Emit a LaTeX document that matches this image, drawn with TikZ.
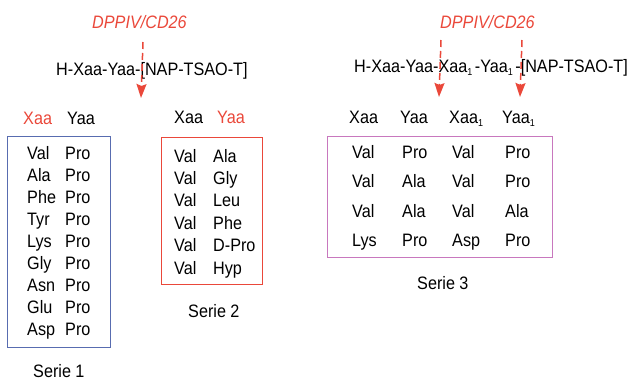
\documentclass[tikz,border=0pt]{standalone}
\usepackage{fontspec}
\setmainfont[FakeStretch=0.9]{Liberation Sans}
\usetikzlibrary{arrows.meta}
\definecolor{cred}{RGB}{234,72,58}
\definecolor{cblue}{RGB}{88,108,176}
\definecolor{cpink}{RGB}{200,120,190}
\newcommand\subone{\raisebox{-3.5pt}{\fontsize{10}{10}\selectfont 1}}
\tikzset{
  txt/.style={anchor=base west,inner sep=0pt,font=\fontsize{18}{21}\selectfont},
  lbl/.style={txt,text=cred,font=\fontsize{18}{21}\selectfont\itshape},
  cut/.style={draw=cred,line width=1.5pt,dash pattern=on 7pt off 4pt,-{Stealth[length=14pt,width=10pt,inset=2pt]}},
  frame/.style={line width=1pt}
}
\begin{document}
\begin{tikzpicture}[x=1pt,y=-1pt]
\useasboundingbox (0,0) rectangle (633,380);
% top labels
\node[lbl] (e1) at (92,28) {DPPIV/CD26};
\node[lbl] (e2) at (440,28) {DPPIV/CD26};
\node[txt] (f1) at (56,75) {H-Xaa-Yaa-[NAP-TSAO-T]};
\node[txt] (f2) at (354,72) {H-Xaa-Yaa-Xaa\subone\hspace{2.5pt}-Yaa\subone\hspace{2.5pt}-[NAP-TSAO-T]};
\coordinate (a1s) at (143,42);
\coordinate (a1e) at (141,98);
\coordinate (a2s) at (441,40);
\coordinate (a2e) at (439,97);
\coordinate (a3s) at (522,40);
\coordinate (a3e) at (520,97);
\draw[cut] (a1s) -- (a1e);
\draw[cut] (a2s) -- (a2e);
\draw[cut] (a3s) -- (a3e);
% Serie 1
\node[txt,text=cred] (h1x) at (23,124) {Xaa};
\node[txt] (h1y) at (67,124) {Yaa};
\draw[frame,cblue] (7,136) rectangle (110,347);
\foreach \a/\b [count=\i from 0] in {Val/Pro,Ala/Pro,Phe/Pro,Tyr/Pro,Lys/Pro,Gly/Pro,Asn/Pro,Glu/Pro,Asp/Pro}{
  \node[txt] (s1a\i) at (27,159+22.1*\i) {\a};
  \node[txt] (s1b\i) at (65,159+22.1*\i) {\b};
}
\node[txt] (ser1) at (33,377) {Serie 1};
% Serie 2
\node[txt] (h2x) at (174,123.5) {Xaa};
\node[txt,text=cred] (h2y) at (217,123.5) {Yaa};
\draw[frame,cred] (161,137) rectangle (262,284);
\foreach \a/\b [count=\i from 0] in {Val/Ala,Val/Gly,Val/Leu,Val/Phe,Val/D-Pro,Val/Hyp}{
  \node[txt] (s2a\i) at (174,162+22.4*\i) {\a};
  \node[txt] (s2b\i) at (213,162+22.4*\i) {\b};
}
\node[txt] (ser2) at (188,317) {Serie 2};
% Serie 3
\node[txt] (h3a) at (349,123) {Xaa};
\node[txt] (h3b) at (400,123) {Yaa};
\node[txt] (h3c) at (449,123) {Xaa\subone};
\node[txt] (h3d) at (502,123) {Yaa\subone};
\draw[frame,cpink] (327,136) rectangle (552,257);
\foreach \a/\b/\c/\d [count=\i from 0] in {Val/Pro/Val/Pro,Val/Ala/Val/Pro,Val/Ala/Val/Ala,Lys/Pro/Asp/Pro}{
  \node[txt] (s3a\i) at (352,158+29.6*\i) {\a};
  \node[txt] (s3b\i) at (402,158+29.6*\i) {\b};
  \node[txt] (s3c\i) at (452,158+29.6*\i) {\c};
  \node[txt] (s3d\i) at (505,158+29.6*\i) {\d};
}
\node[txt] (ser3) at (417,289) {Serie 3};
\end{tikzpicture}
\end{document}
